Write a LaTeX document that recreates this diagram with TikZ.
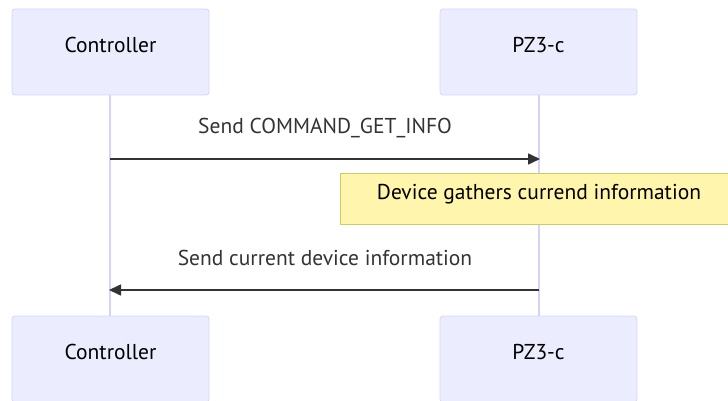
\documentclass[tikz,border=0pt]{standalone}
\usepackage{fontspec}
\setmainfont{PT Sans}
\usetikzlibrary{arrows.meta}
\definecolor{actorfill}{HTML}{ECECFF}
\definecolor{actorline}{HTML}{D8D4FA}
\definecolor{lifeline}{HTML}{D6D2FA}
\definecolor{notefill}{HTML}{FFF5AD}
\definecolor{noteline}{HTML}{CCCC66}
\definecolor{msgline}{HTML}{333333}
\tikzset{
  actor/.style={draw=actorline, fill=actorfill, line width=0.8pt, rounded corners=3pt,
    minimum width=197pt, minimum height=86pt, inner sep=0pt},
  actortext/.style={inner sep=0pt, font=\fontsize{21.5}{24}\selectfont},
  msg/.style={draw=msgline, line width=1.6pt, -{Triangle[length=12pt,width=11pt]}},
  msgtext/.style={text=msgline, font=\fontsize{21.5}{24}\selectfont, inner sep=0pt},
  notebox/.style={draw=noteline, fill=notefill, line width=0.8pt, minimum width=398pt,
    minimum height=51pt, inner sep=0pt},
  life/.style={draw=lifeline, line width=2pt}
}
\begin{document}
\begin{tikzpicture}[x=1pt,y=-1pt]
\useasboundingbox (0,0) rectangle (728,401);
\begin{scope}
\clip (0,0) rectangle (728,401);
% lifelines
\coordinate (cT) at (110,95);
\coordinate (cB) at (110,316);
\coordinate (pT) at (539,95);
\coordinate (pB) at (539,316);
\draw[life] (cT) -- (cB);
\draw[life] (pT) -- (pB);
% participants, top and bottom
\node[actor] (ctop) at (110.5,52) {};
\node[actortext] (ctopt) at (110.5,45) {Controller};
\node[actor] (ptop) at (538.5,52) {};
\node[actortext] (ptopt) at (538.5,45) {PZ3-c};
\node[actor] (cbot) at (110.5,359) {};
\node[actortext] (cbott) at (110.5,352) {Controller};
\node[actor] (pbot) at (538.5,359) {};
\node[actortext] (pbott) at (538.5,352) {PZ3-c};
% request
\coordinate (m1s) at (110,159);
\coordinate (m1e) at (540,159);
\draw[msg] (m1s) -- (m1e);
\node[msgtext] (l1) at (325,128) {Send COMMAND\_GET\_INFO};
% note over the device
\node[notebox] (note) at (539,199) {};
\node[actortext] (notet) at (539,194) {Device gathers currend information};
% reply
\coordinate (m2s) at (539,290);
\coordinate (m2e) at (109,290);
\draw[msg] (m2s) -- (m2e);
\node[msgtext] (l2) at (325,258) {Send current device information};
\end{scope}
\end{tikzpicture}
\end{document}
